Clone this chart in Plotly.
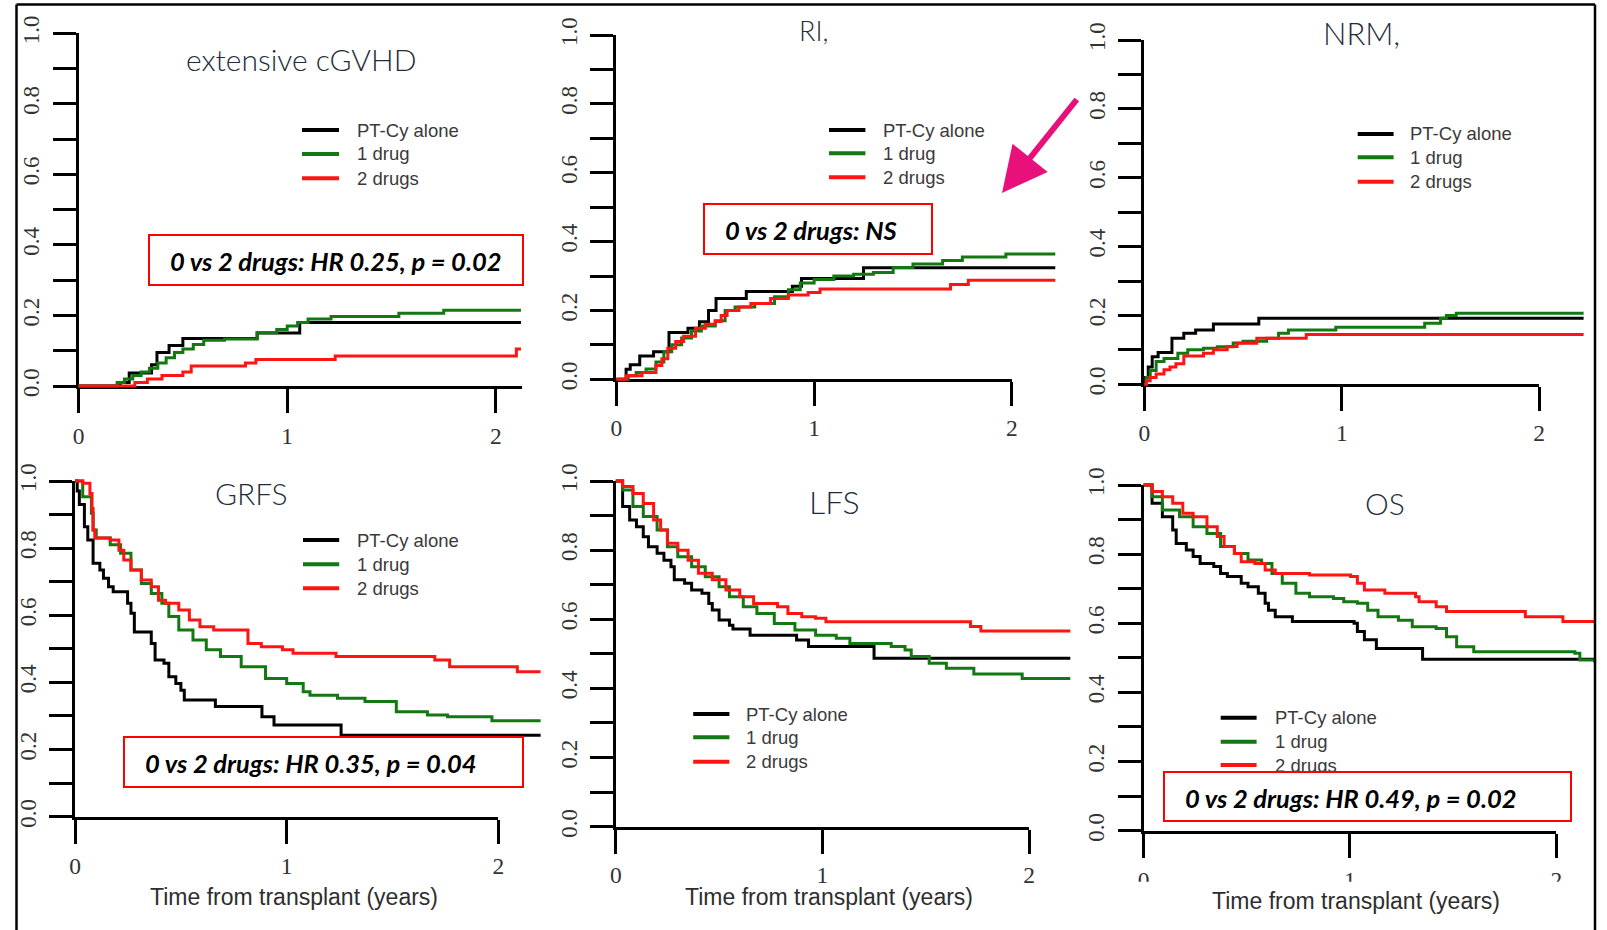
import plotly.graph_objects as go

W, H = 1607, 930

# ---------------------------------------------------------------- labels
series_names = ["PT-Cy alone", "1 drug", "2 drugs"]
series_colors = ["#000000", "#127812", "#ff1414"]
panel_titles = ["extensive cGVHD", "RI,", "NRM,", "GRFS", "LFS", "OS"]
x_tick_vals = [0, 1, 2]
x_tick_text = ["0", "1", "2"]
y_tick_vals = [0.0, 0.1, 0.2, 0.3, 0.4, 0.5, 0.6, 0.7, 0.8, 0.9, 1.0]
y_tick_text = ["0.0", "", "0.2", "", "0.4", "", "0.6", "", "0.8", "", "1.0"]
hr_labels = ["0 vs 2 drugs: HR 0.25, p = 0.02", "0 vs 2 drugs: NS", None,
             "0 vs 2 drugs: HR 0.35, p = 0.04", None,
             "0 vs 2 drugs: HR 0.49, p = 0.02"]
x_axis_title = "Time from transplant (years)"

# ---------------------------------------------------------------- data
# extensive chronic GVHD, cumulative incidence (step times in years)
cgvhd_alone_t = [0, 0.20, 0.243, 0.35, 0.376, 0.434, 0.50, 0.856, 1.06, 2.12]
cgvhd_alone_v = [0, 0.01, 0.037, 0.06, 0.095, 0.115, 0.135, 0.15, 0.18, 0.18]
cgvhd_one_t = [0, 0.185, 0.22, 0.26, 0.30, 0.34, 0.38, 0.42, 0.46, 0.50, 0.55, 0.60,
               0.70, 0.856, 0.95, 1.0, 1.05, 1.10, 1.21, 1.535, 1.75, 2.12]
cgvhd_one_v = [0, 0.01, 0.02, 0.03, 0.04, 0.05, 0.065, 0.08, 0.095, 0.105, 0.118, 0.13,
               0.133, 0.151, 0.16, 0.17, 0.18, 0.19, 0.197, 0.206, 0.215, 0.215]
cgvhd_two_t = [0, 0.27, 0.33, 0.40, 0.50, 0.54, 0.80, 0.85, 1.23, 2.098, 2.12]
cgvhd_two_v = [0, 0.01, 0.02, 0.03, 0.04, 0.057, 0.065, 0.075, 0.085, 0.105, 0.105]

# relapse incidence
ri_alone_t = [0, 0.049, 0.07, 0.118, 0.188, 0.266, 0.362, 0.42, 0.466, 0.504, 0.657,
              0.89, 0.936, 1.25, 2.22]
ri_alone_v = [0, 0.029, 0.042, 0.068, 0.08, 0.136, 0.148, 0.167, 0.20, 0.235, 0.255,
              0.27, 0.293, 0.324, 0.324]
ri_one_t = [0, 0.06, 0.10, 0.15, 0.20, 0.24, 0.28, 0.33, 0.38, 0.43, 0.50, 0.55, 0.60,
            0.70, 0.80, 0.87, 0.93, 1.0, 1.10, 1.20, 1.30, 1.40, 1.50, 1.65, 1.75, 1.97, 2.22]
ri_one_v = [0, 0.01, 0.02, 0.03, 0.05, 0.08, 0.10, 0.12, 0.14, 0.155, 0.17, 0.20, 0.21,
            0.22, 0.24, 0.26, 0.28, 0.29, 0.30, 0.305, 0.31, 0.325, 0.335, 0.345, 0.355,
            0.364, 0.364]
ri_two_t = [0, 0.05, 0.13, 0.20, 0.23, 0.26, 0.30, 0.34, 0.40, 0.45, 0.50, 0.53, 0.56,
            0.62, 0.68, 0.78, 0.87, 0.97, 1.03, 1.69, 1.78, 2.22]
ri_two_v = [0, 0.01, 0.02, 0.04, 0.06, 0.09, 0.11, 0.125, 0.148, 0.16, 0.168, 0.185,
            0.20, 0.21, 0.22, 0.235, 0.245, 0.252, 0.262, 0.275, 0.288, 0.288]

# non-relapse mortality
nrm_alone_t = [0, 0.005, 0.02, 0.04, 0.07, 0.14, 0.20, 0.26, 0.35, 0.58, 2.225]
nrm_alone_v = [0, 0.02, 0.05, 0.08, 0.092, 0.134, 0.148, 0.158, 0.175, 0.192, 0.192]
nrm_one_t = [0, 0.01, 0.03, 0.06, 0.10, 0.17, 0.22, 0.30, 0.37, 0.45, 0.50, 0.62, 0.68,
             0.73, 0.97, 1.42, 1.50, 1.53, 1.58, 2.225]
nrm_one_v = [0, 0.02, 0.04, 0.066, 0.075, 0.09, 0.10, 0.105, 0.109, 0.12, 0.125, 0.134,
             0.148, 0.158, 0.166, 0.177, 0.192, 0.20, 0.206, 0.206]
nrm_two_t = [0, 0.01, 0.03, 0.06, 0.10, 0.13, 0.16, 0.20, 0.30, 0.35, 0.42, 0.47, 0.57,
             0.82, 2.225]
nrm_two_v = [0, 0.01, 0.02, 0.03, 0.042, 0.05, 0.06, 0.082, 0.09, 0.10, 0.11, 0.119,
             0.134, 0.145, 0.145]

# GVHD-free relapse-free survival
grfs_alone_t = [0, 0.01, 0.02, 0.044, 0.06, 0.085, 0.117, 0.134, 0.158, 0.18, 0.248,
                0.264, 0.28, 0.36, 0.378, 0.42, 0.443, 0.476, 0.50, 0.516, 0.663, 0.883,
                0.94, 1.257, 2.20]
grfs_alone_v = [1, 0.97, 0.93, 0.864, 0.824, 0.755, 0.735, 0.71, 0.685, 0.67, 0.636,
                0.606, 0.55, 0.516, 0.467, 0.457, 0.417, 0.397, 0.377, 0.348, 0.328,
                0.298, 0.273, 0.243, 0.243]
grfs_one_t = [0, 0.036, 0.077, 0.085, 0.10, 0.166, 0.215, 0.264, 0.313, 0.36, 0.41,
              0.443, 0.49, 0.557, 0.62, 0.687, 0.785, 0.90, 1.0, 1.078, 1.11, 1.24, 1.37,
              1.518, 1.665, 1.76, 1.97, 2.20]
grfs_one_v = [1, 0.953, 0.904, 0.854, 0.83, 0.81, 0.785, 0.735, 0.695, 0.665, 0.636,
              0.596, 0.556, 0.526, 0.497, 0.477, 0.447, 0.412, 0.397, 0.372, 0.362,
              0.353, 0.343, 0.313, 0.303, 0.298, 0.286, 0.286]
grfs_two_t = [0, 0.036, 0.07, 0.08, 0.085, 0.093, 0.166, 0.207, 0.23, 0.264, 0.313, 0.36,
              0.394, 0.427, 0.49, 0.54, 0.59, 0.655, 0.817, 0.88, 0.98, 1.03, 1.233, 1.70,
              1.77, 2.09, 2.20]
grfs_two_v = [1, 0.993, 0.963, 0.918, 0.854, 0.83, 0.824, 0.794, 0.765, 0.735, 0.705,
              0.685, 0.645, 0.636, 0.616, 0.586, 0.566, 0.556, 0.516, 0.506, 0.497, 0.487,
              0.477, 0.467, 0.447, 0.432, 0.432]

# leukemia-free survival
lfs_alone_t = [0, 0.033, 0.067, 0.10, 0.133, 0.158, 0.20, 0.233, 0.267, 0.283, 0.333,
               0.367, 0.417, 0.45, 0.467, 0.50, 0.55, 0.567, 0.65, 0.875, 0.933, 1.25, 2.20]
lfs_alone_v = [1, 0.926, 0.887, 0.868, 0.839, 0.81, 0.791, 0.771, 0.752, 0.714, 0.704,
               0.685, 0.675, 0.646, 0.627, 0.598, 0.583, 0.572, 0.554, 0.54, 0.521, 0.487,
               0.487]
lfs_one_t = [0, 0.033, 0.083, 0.133, 0.20, 0.25, 0.30, 0.367, 0.433, 0.50, 0.55, 0.617,
             0.683, 0.767, 0.867, 0.967, 1.067, 1.133, 1.333, 1.40, 1.43, 1.517, 1.60,
             1.733, 1.967, 2.20]
lfs_one_v = [1, 0.974, 0.926, 0.897, 0.858, 0.81, 0.781, 0.752, 0.723, 0.694, 0.665,
             0.636, 0.617, 0.588, 0.569, 0.554, 0.545, 0.53, 0.521, 0.511, 0.492, 0.473,
             0.458, 0.442, 0.429, 0.429]
lfs_two_t = [0, 0.033, 0.083, 0.133, 0.183, 0.217, 0.25, 0.30, 0.35, 0.40, 0.467, 0.533,
             0.60, 0.667, 0.783, 0.833, 0.90, 0.967, 1.017, 1.717, 1.767, 2.20]
lfs_two_v = [1, 0.984, 0.964, 0.935, 0.887, 0.858, 0.82, 0.80, 0.771, 0.733, 0.714,
             0.685, 0.665, 0.646, 0.636, 0.617, 0.607, 0.603, 0.593, 0.579, 0.566, 0.566]

# overall survival
os_alone_t = [0, 0.041, 0.091, 0.141, 0.158, 0.207, 0.24, 0.274, 0.34, 0.373, 0.406,
              0.473, 0.506, 0.556, 0.589, 0.605, 0.638, 0.721, 1.02, 1.036, 1.07, 1.128,
              1.352, 2.186]
os_alone_v = [1, 0.947, 0.908, 0.87, 0.831, 0.812, 0.793, 0.773, 0.764, 0.744, 0.735,
              0.716, 0.706, 0.687, 0.658, 0.638, 0.619, 0.605, 0.60, 0.576, 0.552, 0.527,
              0.496, 0.496]
os_one_t = [0, 0.041, 0.091, 0.174, 0.24, 0.307, 0.373, 0.44, 0.506, 0.572, 0.622, 0.672,
            0.738, 0.804, 0.92, 0.97, 1.036, 1.086, 1.136, 1.235, 1.302, 1.418, 1.468,
            1.517, 1.60, 2.09, 2.114, 2.186]
os_one_v = [1, 0.966, 0.928, 0.908, 0.879, 0.86, 0.822, 0.802, 0.783, 0.773, 0.744,
            0.716, 0.687, 0.677, 0.672, 0.662, 0.658, 0.638, 0.619, 0.609, 0.59, 0.585,
            0.561, 0.532, 0.518, 0.513, 0.494, 0.486]
os_two_t = [0, 0.041, 0.091, 0.141, 0.19, 0.24, 0.307, 0.357, 0.39, 0.44, 0.473, 0.539,
            0.589, 0.638, 0.804, 1.003, 1.036, 1.07, 1.169, 1.318, 1.335, 1.418, 1.468,
            1.85, 2.032, 2.186]
os_two_v = [1, 0.981, 0.966, 0.947, 0.918, 0.908, 0.879, 0.851, 0.822, 0.802, 0.778,
            0.773, 0.754, 0.744, 0.74, 0.735, 0.716, 0.696, 0.687, 0.677, 0.662, 0.648,
            0.634, 0.619, 0.605, 0.605]

panel_series = [
    [(cgvhd_alone_t, cgvhd_alone_v), (cgvhd_one_t, cgvhd_one_v), (cgvhd_two_t, cgvhd_two_v)],
    [(ri_alone_t, ri_alone_v), (ri_one_t, ri_one_v), (ri_two_t, ri_two_v)],
    [(nrm_alone_t, nrm_alone_v), (nrm_one_t, nrm_one_v), (nrm_two_t, nrm_two_v)],
    [(grfs_alone_t, grfs_alone_v), (grfs_one_t, grfs_one_v), (grfs_two_t, grfs_two_v)],
    [(lfs_alone_t, lfs_alone_v), (lfs_one_t, lfs_one_v), (lfs_two_t, lfs_two_v)],
    [(os_alone_t, os_alone_v), (os_one_t, os_one_v), (os_two_t, os_two_v)],
]

# ---------------------------------------------------------------- layout geometry (px)
# pixel of t=0, pixel of t=2, pixel of value 0, pixel of value 1, end of x axis line (years)
geom = [
    (78.5, 495.9, 386.0, 33.3, 2.124),
    (616.4, 1011.8, 379.3, 35.0, 2.0),
    (1144.3, 1539.2, 384.3, 40.0, 2.0),
    (75.1, 498.3, 816.7, 481.0, 2.0),
    (615.8, 1029.0, 826.7, 481.0, 2.0),
    (1143.6, 1556.3, 830.7, 485.0, 2.0),
]
x_label_standoff = [3, 1, 1, 2, 1, 2]
title_pos = [(301, 59.2, 30), (813.8, 30.5, 27), (1361, 33.3, 31),
             (250.7, 493.3, 30), (834.4, 501.7, 32), (1385, 502.7, 30)]
legend_pos = [(302, 339, 355, [130, 154, 178.3]),
              (829, 865.4, 881, [130, 153.3, 177.3]),
              (1357.7, 1393.6, 1408.4, [134, 157.3, 181.7]),
              (303, 339.2, 354.7, [540, 564.3, 588.3]),
              (693.2, 729.4, 743.9, [714, 737.3, 761.7]),
              (1220.7, 1256.6, 1272.7, [717.7, 741.7, 765])]
box_pos = [(148.3, 234.3, 524, 286, 168, 260.8),
           (702.5, 203.3, 932, 255.3, 722.5, 230),
           None,
           (122.6, 736, 523.4, 787.7, 143, 763.3),
           None,
           (1163, 770.7, 1572, 822, 1183, 798.3)]
xtitle_pos = [None, None, None, (294.4, 897), (828.6, 896.5), (1356, 901)]

SERIF = "Liberation Serif, Times New Roman, serif"
SANS = "Liberation Sans, Arial, sans-serif"


def px(x):
    return x / W


def py(y):
    return 1 - y / H


def ax_key(kind, n):
    return kind + ("" if n == 1 else str(n))


def ax_ref(kind, n):
    return kind + ("" if n == 1 else str(n))


fig = go.Figure()
layout = dict(
    template="none",
    width=W, height=H, margin=dict(l=0, r=0, t=0, b=0, pad=0),
    paper_bgcolor="white", plot_bgcolor="rgba(0,0,0,0)", showlegend=False,
)

for i, (x0, x2, y0, y1, aend) in enumerate(geom):
    k = i + 1          # axes that carry the drawn frame, ticks and labels
    j = i + 7          # axes that carry the curves (same scale, padded range)
    sx = (x2 - x0) / 2.0
    sy = (y0 - y1)
    xend = x0 + aend * sx

    layout[ax_key("xaxis", k)] = dict(
        domain=[px(x0), px(xend)], range=[0, aend], anchor=ax_ref("y", k),
        automargin=False,
        showline=True, linecolor="black", linewidth=3,
        ticks="outside", ticklen=24, tickwidth=3, tickcolor="black",
        tickmode="array", tickvals=x_tick_vals, ticktext=x_tick_text,
        tickfont=dict(family=SERIF, size=23.5, color="#333333"),
        ticklabelstandoff=x_label_standoff[i], showgrid=False, zeroline=False,
        fixedrange=True,
    )
    layout[ax_key("yaxis", k)] = dict(
        domain=[py(y0), py(y1)], range=[0, 1], anchor=ax_ref("x", k),
        automargin=False,
        showline=True, linecolor="black", linewidth=3,
        ticks="outside", ticklen=23, tickwidth=3, tickcolor="black",
        tickmode="array", tickvals=y_tick_vals, ticktext=y_tick_text, tickangle=-90,
        tickfont=dict(family=SERIF, size=23, color="#333333"),
        ticklabelstandoff=4, showgrid=False, zeroline=False, fixedrange=True,
    )
    # an empty, invisible trace keeps the axis-only subplot alive
    fig.add_trace(go.Scatter(
        x=[0], y=[0], mode="markers", marker=dict(opacity=0, size=1),
        xaxis=ax_ref("x", k), yaxis=ax_ref("y", k), hoverinfo="skip", showlegend=False,
    ))

    tlo, thi = -0.04, min(2.3, (W - 1 - x0) / sx)
    vlo, vhi = -0.03, 1.03
    layout[ax_key("xaxis", j)] = dict(
        domain=[px(x0 + tlo * sx), px(x0 + thi * sx)], range=[tlo, thi],
        anchor=ax_ref("y", j), visible=False, fixedrange=True, automargin=False,
    )
    layout[ax_key("yaxis", j)] = dict(
        domain=[py(y0 - vlo * sy), py(y0 - vhi * sy)], range=[vlo, vhi],
        anchor=ax_ref("x", j), visible=False, fixedrange=True, automargin=False,
    )

    for (t, v), name, color in zip(panel_series[i], series_names, series_colors):
        fig.add_trace(go.Scatter(
            x=t, y=v, mode="lines", name=name,
            line=dict(color=color, width=3, shape="hv"),
            xaxis=ax_ref("x", j), yaxis=ax_ref("y", j), hoverinfo="skip",
        ))

annotations = []
shapes = []

# panel titles
for (cx, cy, fs), text in zip(title_pos, panel_titles):
    annotations.append(dict(
        x=px(cx), y=py(cy), xref="paper", yref="paper", xanchor="center", yanchor="middle",
        text=text, showarrow=False,
        font=dict(family="Lato, Open Sans, sans-serif", size=fs, color="#242c3c", weight=300),
    ))

# legends
for lx0, lx1, tx, rows in legend_pos:
    for ry, name, color in zip(rows, series_names, series_colors):
        shapes.append(dict(type="line", xref="paper", yref="paper",
                           x0=px(lx0), x1=px(lx1), y0=py(ry), y1=py(ry),
                           line=dict(color=color, width=4)))
        annotations.append(dict(
            x=px(tx), y=py(ry), xref="paper", yref="paper", xanchor="left",
            yanchor="middle", text=name, showarrow=False,
            font=dict(family=SANS, size=18.5, color="#3a3a3a"),
        ))

# axis titles
for pos in xtitle_pos:
    if pos is None:
        continue
    annotations.append(dict(
        x=px(pos[0]), y=py(pos[1]), xref="paper", yref="paper", xanchor="center",
        yanchor="middle", text=x_axis_title, showarrow=False,
        font=dict(family=SANS, size=23, color="#2e2e2e"),
    ))

# hazard ratio call-outs (white boxes with red frame)
for pos, label in zip(box_pos, hr_labels):
    if pos is None:
        continue
    bl, bt, br, bb, tx, tcy = pos
    annotations.append(dict(
        x=px(bl), y=py(bt), xref="paper", yref="paper", xanchor="left", yanchor="top",
        text=" ", showarrow=False, width=br - bl - 4, height=bb - bt - 4,
        bgcolor="white", bordercolor="#ff0000", borderwidth=2, borderpad=0,
    ))
    annotations.append(dict(
        x=px(tx), y=py(tcy), xref="paper", yref="paper", xanchor="left",
        yanchor="middle", text=label, showarrow=False,
        font=dict(family="Lato, Open Sans, sans-serif", size=25.5, color="black",
                  weight="bold", style="italic"),
    ))

# pointer arrow
annotations.append(dict(
    x=px(1002), y=py(193), xref="paper", yref="paper", text="", showarrow=True,
    ax=76, ay=-95, arrowhead=2, arrowsize=1.5, arrowwidth=6, arrowcolor="#e8107a",
    standoff=0,
))

# slide frame
shapes += [
    dict(type="line", xref="paper", yref="paper", x0=px(16.5), x1=px(16.5),
         y0=py(4.5), y1=py(931), line=dict(color="black", width=2.5)),
    dict(type="line", xref="paper", yref="paper", x0=px(16.5), x1=px(1595),
         y0=py(4.5), y1=py(4.5), line=dict(color="black", width=2.5)),
    dict(type="line", xref="paper", yref="paper", x0=px(1595), x1=px(1595),
         y0=py(4.5), y1=py(931), line=dict(color="black", width=2.5)),
    # lower strip of the last panel's tick labels is cut away
    dict(type="rect", xref="paper", yref="paper", x0=px(1100), x1=px(1590),
         y0=py(890.5), y1=py(881.7), fillcolor="white", line=dict(width=0),
         layer="above"),
]

layout["annotations"] = annotations
layout["shapes"] = shapes
fig.update_layout(**layout)
fig.write_html("out.html")
